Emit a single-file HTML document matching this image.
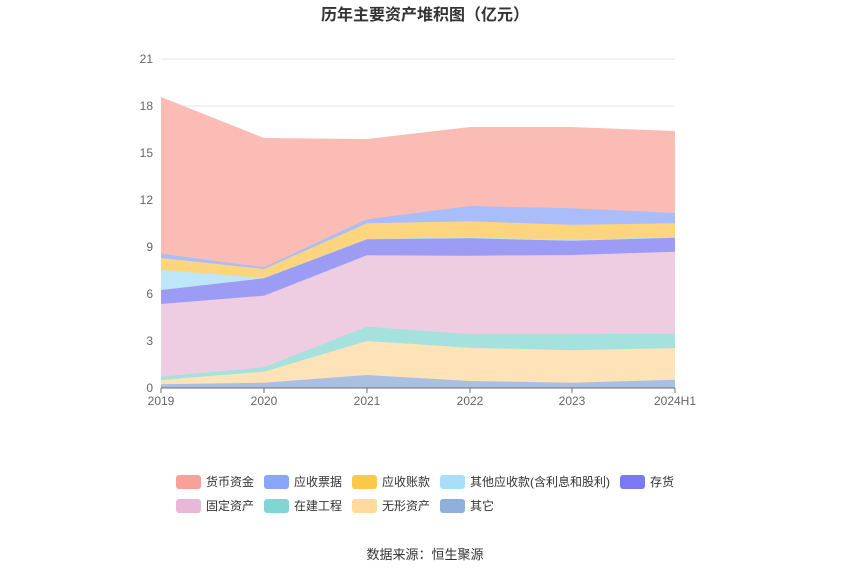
<!DOCTYPE html><html><head><meta charset="utf-8"><style>body{margin:0;background:#fff;font-family:"Liberation Sans","Noto Sans CJK SC",sans-serif}</style></head><body>
<svg width="850" height="575" xmlns="http://www.w3.org/2000/svg" font-family="Liberation Sans, Noto Sans CJK SC, sans-serif">
<text x="425" y="20" text-anchor="middle" font-size="16" font-weight="bold" fill="#333">历年主要资产堆积图（亿元）</text>
<g stroke="#e6e6e6" stroke-width="1">
<line x1="161" x2="675" y1="59" y2="59"/><line x1="161" x2="675" y1="106" y2="106"/><line x1="161" x2="675" y1="153" y2="153"/><line x1="161" x2="675" y1="200" y2="200"/><line x1="161" x2="675" y1="247" y2="247"/><line x1="161" x2="675" y1="294" y2="294"/><line x1="161" x2="675" y1="341" y2="341"/></g>
<g font-size="12" fill="#666" text-anchor="end">
<text x="153" y="63">21</text><text x="153" y="110">18</text><text x="153" y="157">15</text><text x="153" y="204">12</text><text x="153" y="251">9</text><text x="153" y="298">6</text><text x="153" y="345">3</text><text x="153" y="392">0</text></g>
<polygon fill="#fcbcb6" points="161,97 264,138 367,139 470,127 572,127 675,131 675,388 161,388"/>
<polygon fill="#a9bdfb" points="161,253.7 264,267.3 367,219.3 470,206 572,208.3 675,213 675,388 161,388"/>
<polygon fill="#fdd57f" points="161,258 264,269 367,223.3 470,221.3 572,224.7 675,223.3 675,388 161,388"/>
<polygon fill="#bde6f8" points="161,270 264,278 367,239 470,237.3 572,240 675,237 675,388 161,388"/>
<polygon fill="#9d9cf5" points="161,290 264,278.3 367,239.3 470,238.3 572,240.7 675,237.7 675,388 161,388"/>
<polygon fill="#eecde3" points="161,304 264,295.7 367,255.3 470,255.7 572,255 675,251.7 675,388 161,388"/>
<polygon fill="#a5e1dd" points="161,376.7 264,367.3 367,326.7 470,334.3 572,334.3 675,333.7 675,388 161,388"/>
<polygon fill="#fee2b8" points="161,380 264,371.7 367,341 470,347.7 572,350.3 675,348 675,388 161,388"/>
<polygon fill="#a9c0e2" points="161,384.3 264,382.7 367,375 470,381 572,382.7 675,379.7 675,388 161,388"/>
<g stroke="#6e7079"><line x1="161" x2="675" y1="388" y2="388"/>
<line x1="161" x2="161" y1="388" y2="393"/><line x1="264" x2="264" y1="388" y2="393"/><line x1="367" x2="367" y1="388" y2="393"/><line x1="470" x2="470" y1="388" y2="393"/><line x1="572" x2="572" y1="388" y2="393"/><line x1="675" x2="675" y1="388" y2="393"/></g>
<g font-size="12" fill="#666" text-anchor="middle">
<text x="161" y="405">2019</text><text x="264" y="405">2020</text><text x="367" y="405">2021</text><text x="470" y="405">2022</text><text x="572" y="405">2023</text><text x="675" y="405">2024H1</text></g>
<g font-size="12" fill="#333">
<rect x="176" y="475" width="25" height="14" rx="3" fill="#f7a19a"/><text x="206" y="486">货币资金</text>
<rect x="264" y="475" width="25" height="14" rx="3" fill="#8aa6f8"/><text x="294" y="486">应收票据</text>
<rect x="352" y="475" width="25" height="14" rx="3" fill="#fbc84a"/><text x="382" y="486">应收账款</text>
<rect x="440" y="475" width="25" height="14" rx="3" fill="#a6dff7"/><text x="470" y="486">其他应收款(含利息和股利)</text>
<rect x="620" y="475" width="25" height="14" rx="3" fill="#7b78f0"/><text x="650" y="486">存货</text>
<rect x="176" y="499" width="25" height="14" rx="3" fill="#e8b8d8"/><text x="206" y="510">固定资产</text>
<rect x="264" y="499" width="25" height="14" rx="3" fill="#7fd6d2"/><text x="294" y="510">在建工程</text>
<rect x="352" y="499" width="25" height="14" rx="3" fill="#fedb9d"/><text x="382" y="510">无形资产</text>
<rect x="440" y="499" width="25" height="14" rx="3" fill="#8fb0db"/><text x="470" y="510">其它</text>
</g>
<text x="425" y="559" text-anchor="middle" font-size="13" fill="#333">数据来源：恒生聚源</text>
</svg></body></html>
